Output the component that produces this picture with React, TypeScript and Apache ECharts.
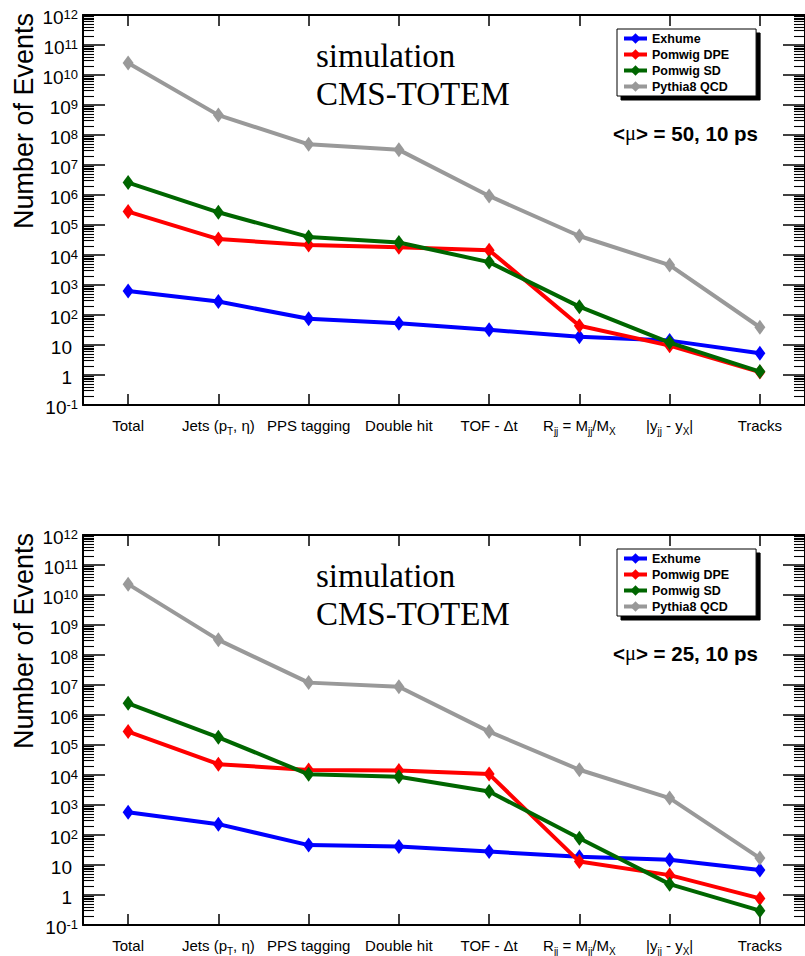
import React, { useEffect, useRef } from "react";
import * as echarts from "echarts";

// ---------- data ----------
const categories = ["Total", "Jets (pT, η)", "PPS tagging", "Double hit", "TOF - Δt", "Rjj = Mjj/MX", "|yjj - yX|", "Tracks"];
const categoryRich = [
  "Total",
  "Jets (p{sub|T}, η)",
  "PPS tagging",
  "Double hit",
  "TOF - Δt",
  "R{sub|jj} = M{sub|jj}/M{sub|X}",
  "|y{sub2|jj} - y{sub|X}|",
  "Tracks",
];
const seriesNames = ["Exhume", "Pomwig DPE", "Pomwig SD", "Pythia8 QCD"];
const seriesColors = ["#0000ff", "#ff0000", "#006600", "#999999"];

// <mu> = 50, 10 ps
const exhume50 = [630, 280, 75, 53, 32, 19, 14, 5.3];
const dpe50 = [2.8e5, 3.4e4, 2.15e4, 1.8e4, 1.45e4, 44, 9.5, 1.25];
const sd50 = [2.6e6, 2.65e5, 4.0e4, 2.6e4, 5.8e3, 190, 12, 1.3];
const qcd50 = [2.5e10, 4.6e8, 4.9e7, 3.2e7, 9.3e5, 4.3e4, 4.6e3, 39];

// <mu> = 25, 10 ps
const exhume25 = [570, 230, 46, 41, 28, 19, 15, 6.8];
const dpe25 = [2.8e5, 2.3e4, 1.47e4, 1.4e4, 1.07e4, 13, 4.6, 0.77];
const sd25 = [2.45e6, 1.8e5, 1.05e4, 8.8e3, 2.8e3, 78, 2.3, 0.3];
const qcd25 = [2.3e10, 3.2e8, 1.2e7, 8.8e6, 2.8e5, 1.5e4, 1.7e3, 17];

// y axis: decades 10^-1 .. 10^12 (log10 scale)
const yMinExp = -1;
const yMaxExp = 12;
const minorMultipliers = [2, 3, 4, 5, 6, 7, 8, 9];

const pileupLabels = ["<{m|μ}> = 50, 10 ps", "<{m|μ}> = 25, 10 ps"];
const simLines = ["simulation", "CMS-TOTEM"];
const yAxisTitle = "Number of Events";

// ---------- helpers ----------
const SANS = "Liberation Sans";
const SERIF = "Liberation Serif";

const minorExpValues: number[] = [];
for (let e = yMinExp; e < yMaxExp; e++) {
  minorMultipliers.forEach((k) => minorExpValues.push(e + Math.log10(k)));
}

const panels = [
  { top: 15, data: [exhume50, dpe50, sd50, qcd50], label: pileupLabels[0] },
  { top: 535, data: [exhume25, dpe25, sd25, qcd25], label: pileupLabels[1] },
];
const GRID_LEFT = 83;
const GRID_WIDTH = 729;
const GRID_HEIGHT = 390;

function yLabelFormatter(v: number) {
  const e = Math.round(v);
  if (e === 0) return "{p|1}";
  if (e === 1) return "{p|10}";
  return `{b|10}{s|${e}}`;
}

function buildOption() {
  const grids: any[] = [];
  const xAxes: any[] = [];
  const yAxes: any[] = [];
  const series: any[] = [];
  const legends: any[] = [];
  const graphics: any[] = [];

  const axisLine = { show: true, onZero: false, lineStyle: { color: "#000", width: 2 } };
  const majorTick = { show: true, inside: true, length: 22, lineStyle: { color: "#000", width: 1.5 } };
  const minorTick = { show: true, inside: true, length: 11, customValues: minorExpValues, lineStyle: { color: "#000", width: 1.1 } };
  const xTick = { show: true, inside: true, alignWithLabel: true, length: 11, lineStyle: { color: "#000", width: 1.5 } };

  panels.forEach((p, g) => {
    const mainGrid = grids.length;
    grids.push({ left: GRID_LEFT, top: p.top, width: GRID_WIDTH, height: GRID_HEIGHT, show: false });
    const minorGrid = grids.length;
    grids.push({ left: GRID_LEFT, top: p.top, width: GRID_WIDTH, height: GRID_HEIGHT, show: false });

    const xBottom = xAxes.length;
    xAxes.push({
      type: "category",
      gridIndex: mainGrid,
      position: "bottom",
      data: categories,
      boundaryGap: true,
      axisLine,
      axisTick: xTick,
      axisLabel: {
        interval: 0,
        margin: 9,
        color: "#000",
        fontFamily: SANS,
        fontSize: 15,
        lineHeight: 22,
        formatter: (_v: string, i: number) => categoryRich[i],
        rich: {
          sub: { fontFamily: SANS, fontSize: 10, lineHeight: 10, verticalAlign: "bottom", color: "#000" },
          sub2: { fontFamily: SANS, fontSize: 10, lineHeight: 8, verticalAlign: "bottom", color: "#000" },
        },
      },
      splitLine: { show: false },
    });
    xAxes.push({
      type: "category",
      gridIndex: mainGrid,
      position: "top",
      data: categories,
      boundaryGap: true,
      axisLine,
      axisTick: xTick,
      axisLabel: { show: false },
      splitLine: { show: false },
    });
    xAxes.push({
      type: "category",
      gridIndex: minorGrid,
      position: "bottom",
      data: categories,
      show: false,
      axisLine: { onZero: false },
    });

    const baseY = {
      type: "value",
      min: yMinExp,
      max: yMaxExp,
      interval: 1,
      splitLine: { show: false },
    };
    const yMain = yAxes.length;
    yAxes.push({
      ...baseY,
      gridIndex: mainGrid,
      position: "left",
      axisLine,
      axisTick: majorTick,
      axisLabel: {
        show: true,
        margin: 5,
        formatter: yLabelFormatter,
        color: "#000",
        padding: [5, 0, 0, 0],
        rich: {
          b: { fontFamily: SANS, fontSize: 19, lineHeight: 19, verticalAlign: "bottom", color: "#000" },
          s: { fontFamily: SANS, fontSize: 13, lineHeight: 13, verticalAlign: "top", padding: [0, 0, 17, 0], color: "#000" },
          p: { fontFamily: SANS, fontSize: 19, lineHeight: 19, padding: [0, 6, 0, 0], color: "#000" },
        },
      },
    });
    yAxes.push({
      ...baseY,
      gridIndex: mainGrid,
      position: "right",
      axisLine,
      axisTick: majorTick,
      axisLabel: { show: false },
    });
    yAxes.push({
      ...baseY,
      gridIndex: minorGrid,
      position: "left",
      axisLine: { show: false, onZero: false },
      axisTick: minorTick,
      axisLabel: { show: false },
    });
    yAxes.push({
      ...baseY,
      gridIndex: minorGrid,
      position: "right",
      axisLine: { show: false, onZero: false },
      axisTick: minorTick,
      axisLabel: { show: false },
    });

    const drawOrder = [0, 2, 1, 3];
    drawOrder.forEach((si) => {
      series.push({
        type: "line",
        name: seriesNames[si],
        xAxisIndex: xBottom,
        yAxisIndex: yMain,
        data: p.data[si].map((v) => Math.log10(v)),
        symbol: "diamond",
        symbolSize: [11, 15],
        showSymbol: true,
        lineStyle: { color: seriesColors[si], width: 4 },
        itemStyle: { color: seriesColors[si] },
        emphasis: { disabled: true },
        z: 3 + si,
      });
    });

    legends.push({
      data: seriesNames,
      left: 617,
      top: p.top + 14,
      orient: "vertical",
      itemWidth: 23,
      itemHeight: 13,
      itemGap: 3,
      padding: [3, 27, 3, 5],
      backgroundColor: "#fff",
      borderColor: "#000",
      borderWidth: 1,
      shadowColor: "#000",
      shadowOffsetX: 4,
      shadowOffsetY: 4,
      shadowBlur: 0,
      selectedMode: false,
      lineStyle: { width: 4 },
      textStyle: { fontFamily: SANS, fontWeight: "bold", fontSize: 12.5, color: "#000" },
    });

    graphics.push({
      type: "text",
      x: 316,
      y: p.top + 41,
      style: { text: simLines[0], fontFamily: SERIF, fontSize: 33, fill: "#000", textAlign: "left", textVerticalAlign: "middle" },
    });
    graphics.push({
      type: "text",
      x: 316,
      y: p.top + 79,
      style: { text: simLines[1], fontFamily: SERIF, fontSize: 33, fill: "#000", textAlign: "left", textVerticalAlign: "middle" },
    });
    graphics.push({
      type: "text",
      x: 613,
      y: p.top + 118,
      style: {
        text: p.label,
        fontFamily: SANS,
        fontWeight: "bold",
        fontSize: 20.5,
        fill: "#000",
        textAlign: "left",
        textVerticalAlign: "middle",
        rich: { m: { fontFamily: SERIF, fontWeight: "normal", fontSize: 20.5, fill: "#000" } },
      },
    });
    graphics.push({
      type: "text",
      x: 24,
      y: p.top + 106,
      rotation: Math.PI / 2,
      style: { text: yAxisTitle, fontFamily: SANS, fontSize: 27, fill: "#000", textAlign: "center", textVerticalAlign: "middle" },
    });
  });

  return {
    animation: false,
    backgroundColor: "#fff",
    grid: grids,
    xAxis: xAxes,
    yAxis: yAxes,
    series,
    legend: legends,
    graphic: graphics,
  };
}

export default function App() {
  const ref = useRef<HTMLDivElement>(null);
  useEffect(() => {
    if (!ref.current) return;
    const chart = echarts.init(ref.current, undefined, { renderer: "svg" });
    chart.setOption(buildOption() as any);
    return () => chart.dispose();
  }, []);
  return (
    <div
      ref={ref}
      style={{ position: "absolute", left: 0, top: 0, width: 805, height: 956, background: "#fff" }}
    />
  );
}
